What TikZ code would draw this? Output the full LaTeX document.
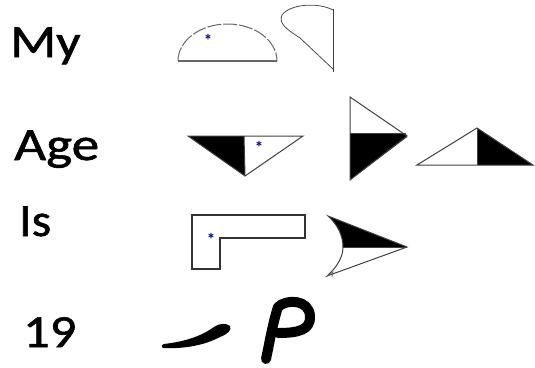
\documentclass[tikz,border=0pt]{standalone}
\usepackage{fontspec}
\setmainfont{Carlito}
\newfontfamily\lblfont{Carlito}[FakeBold=1.2]
\begin{document}
\begin{tikzpicture}[x=1pt,y=-1pt,
  lbl/.style={anchor=base west,inner sep=0pt,font=\lblfont\fontsize{46}{46}\selectfont},
  outl/.style={line width=1pt,draw=black!75},
  arcl/.style={line width=1pt,draw=black!60,dash pattern=on 14pt off 2pt},
  blk/.style={fill=black},
  star/.style={inner sep=0pt,font=\fontsize{17}{17}\selectfont\bfseries,text=blue!55!black},
  ink/.style={line width=10pt,line cap=round,line join=round,draw=black}]
\useasboundingbox (0,0) rectangle (535,367);
% labels
\node[lbl] (my) at (10,57) {\scalebox{1.17}[1]{My}};
\node[lbl] (age) at (14,160) {\scalebox{1.2}[1]{Age}};
\node[lbl] (is) at (19,236) {\scalebox{1.08}[1]{Is}};
\node[lbl] (nn) at (23,347) {\scalebox{1.14}[1]{19}};
% row 1: half dome
\draw[line width=1.6pt,draw=black!60] (178,61) -- (277,61);
\draw[arcl] (178,61) arc[start angle=180,end angle=360,x radius=49.5,y radius=37];
\node[star] (s1) at (208,40) {*};
% row 1: teardrop quarter
\draw[outl] (333,9) -- (333,72);
\draw[line width=0.8pt,draw=black!70] (333,10) .. controls (318,2) and (290,4) .. (282,15)
  .. controls (278,24) and (288,30) .. (300,38) -- (333,69);
% row 2: inverted triangle
\fill[blk] (188,136) -- (244,136) -- (245,176) -- cycle;
\draw[outl] (188,136) -- (303,136) -- (245,176) -- cycle;
\draw[outl] (244,136) -- (245,176);
\node[star] (s2) at (259,147) {*};
% row 2: right-pointing triangle
\fill[blk] (350,133) -- (406,134) -- (407,137) -- (350,180) -- cycle;
\draw[outl] (350,97) -- (407,136) -- (350,180) -- cycle;
\draw[outl] (350,133) -- (406,133);
% row 2: upward triangle
\fill[blk] (477,128) -- (533,165) -- (477,165) -- cycle;
\draw[outl] (417,165) -- (533,165) -- (477,128) -- cycle;
\draw[outl] (477,128) -- (477,165);
% row 3: L shape
\draw[line width=1.2pt,draw=black!80] (192,215) -- (305,215) -- (305,238) -- (220,238)
  -- (220,269) -- (192,269) -- cycle;
\node[star] (s3) at (211,239) {*};
% row 3: crescent arrow
\fill[blk] (328,216) .. controls (338,225) and (343,236) .. (343,247) -- (407,247) -- cycle;
\draw[outl] (328,216) .. controls (338,225) and (343,236) .. (343,247)
  .. controls (343,258) and (336,268) .. (327,276) -- (407,247) -- cycle;
\draw[outl] (343,247) -- (407,247);
\draw[line width=0.7pt,draw=black!60] (327,276) -- (333,272) -- (332,277);
% row 4: hand-drawn strokes
\fill[black] (164,348) .. controls (185,349) and (205,345) .. (220,337)
  .. controls (228,334) and (232,330) .. (230,326) .. controls (227,323) and (219,323) .. (214,327)
  .. controls (204,334) and (190,341) .. (164,344) .. controls (161,345) and (161,348) .. (164,348) -- cycle;
\draw[ink] (266,359) .. controls (269,345) and (273,322) .. (278,307)
  .. controls (286,299) and (309,299) .. (310,316) .. controls (311,330) and (298,333) .. (278,333);
\end{tikzpicture}
\end{document}
